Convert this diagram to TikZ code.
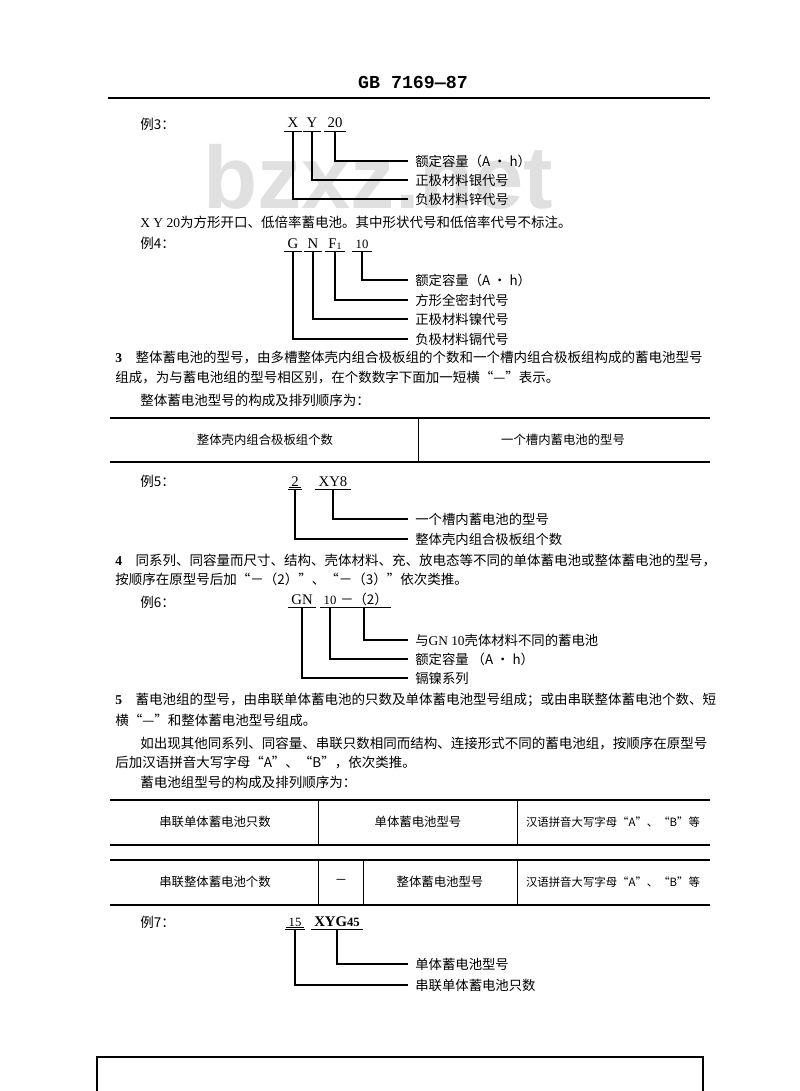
\documentclass[tikz,border=0pt]{standalone}
\usepackage{fontspec}
\setmainfont{Liberation Serif}
\newfontfamily\cjk{Noto Sans CJK SC}
\newfontfamily\hdfont{Liberation Mono}
\newfontfamily\wmfont{Liberation Sans}
\XeTeXlinebreaklocale "zh"
\XeTeXlinebreakskip=0pt plus 2pt minus 0.3pt
\newlength\pxu
\setlength\pxu{0.025cm}
\newcommand\jline[2]{\makebox[#1\pxu][s]{#2}}
\begin{document}
\begin{tikzpicture}[x=0.025cm, y=-0.025cm,
    body/.style={anchor=west, inner sep=0pt, font=\cjk\fontsize{9.6}{11}\selectfont},
    lbl/.style={anchor=west, inner xsep=5pt, inner ysep=0pt, font=\cjk\fontsize{9.5}{11}\selectfont},
    code/.style={anchor=base, inner xsep=2.3pt, inner ysep=2.5pt, text depth=0pt, font=\fontsize{10.5}{12}\selectfont},
    cell/.style={inner sep=0pt, font=\cjk\fontsize{8.8}{10}\selectfont},
    rule/.style={line width=1.3pt},
    thin/.style={line width=0.7pt},
    lead/.style={line width=0.8pt}]
    \useasboundingbox (0,0) rectangle (800,1091);
    % watermark
    \node[anchor=base west, inner sep=0pt, text=black!12, font=\wmfont\bfseries\fontsize{63}{63}\selectfont] (wm) at (203,208) {bzxz.net};
    % header
    \node[font=\hdfont\bfseries\fontsize{13}{13}\selectfont] (hdr) at (413,82) {GB 7169—87};
    \draw[rule] (108,98) -- (710,98);
    % example 3: X Y 20
    \node[body] (ex3) at (140,124) {例3：};
    \node[code] (ex3a) at (293,128) {X};
    \node[code] (ex3b) at (312,128) {Y};
    \node[code] (ex3c) at (335,128) {20};
    \draw[lead] (ex3a.south west) -- (ex3a.south east);
    \draw[lead] (ex3b.south west) -- (ex3b.south east);
    \draw[lead] (ex3c.south west) -- (ex3c.south east);
    \node[lbl] (ex3cl) at (408,161) {额定容量（A · h）};
    \node[lbl] (ex3bl) at (408,180) {正极材料银代号};
    \node[lbl] (ex3al) at (408,199) {负极材料锌代号};
    \draw[lead] (ex3c.south) |- (ex3cl.west);
    \draw[lead] (ex3b.south) |- (ex3bl.west);
    \draw[lead] (ex3a.south) |- (ex3al.west);
    \node[body] (txt1) at (140,222) {{\rmfamily X Y 20}为方形开口、低倍率蓄电池。其中形状代号和低倍率代号不标注。};
    % example 4: G N F1 10
    \node[body] (ex4) at (140,243) {例4：};
    \node[code] (ex4a) at (293,248) {G};
    \node[code] (ex4b) at (313,248) {N};
    \node[code] (ex4c) at (335,248) {F\raisebox{-1pt}{\scriptsize 1}};
    \node[code] (ex4d) at (362,248) {\small 10};
    \draw[lead] (ex4a.south west) -- (ex4a.south east);
    \draw[lead] (ex4b.south west) -- (ex4b.south east);
    \draw[lead] (ex4c.south west) -- (ex4c.south east);
    \draw[lead] (ex4d.south west) -- (ex4d.south east);
    \node[lbl] (ex4dl) at (408,280) {额定容量（A · h）};
    \node[lbl] (ex4cl) at (408,300) {方形全密封代号};
    \node[lbl] (ex4bl) at (408,319) {正极材料镍代号};
    \node[lbl] (ex4al) at (408,339) {负极材料镉代号};
    \draw[lead] (ex4d.south) |- (ex4dl.west);
    \draw[lead] (ex4c.south) |- (ex4cl.west);
    \draw[lead] (ex4b.south) |- (ex4bl.west);
    \draw[lead] (ex4a.south) |- (ex4al.west);
    % clause 3
    \node[body] (p3a) at (115,358) {\jline{590}{{\rmfamily\bfseries 3}\hspace{1em}整体蓄电池的型号，由多槽整体壳内组合极板组的个数和一个槽内组合极板组构成的蓄电池型号}};
    \node[body] (p3b) at (115,378) {组成，为与蓄电池组的型号相区别，在个数数字下面加一短横“—”表示。};
    \node[body] (p3c) at (140,400) {整体蓄电池型号的构成及排列顺序为：};
    % table 1
    \draw[rule] (110,418) -- (710,418);
    \draw[rule] (110,462) -- (710,462);
    \draw[thin] (418,418) -- (418,462);
    \node[cell] (t1a) at (265,440) {整体壳内组合极板组个数};
    \node[cell] (t1b) at (563,440) {一个槽内蓄电池的型号};
    % example 5: 2 XY8
    \node[body] (ex5) at (140,481) {例5：};
    \node[code] (ex5a) at (295,486) {2};
    \node[code] (ex5b) at (333,486) {XY8};
    \draw[lead] ([xshift=0.8pt,yshift=1.5pt]ex5a.south west) -- ([xshift=-0.8pt,yshift=1.5pt]ex5a.south east);
    \draw[lead] (ex5a.south west) -- (ex5a.south east);
    \draw[lead] (ex5b.south west) -- (ex5b.south east);
    \node[lbl] (ex5bl) at (408,519) {一个槽内蓄电池的型号};
    \node[lbl] (ex5al) at (408,539) {整体壳内组合极板组个数};
    \draw[lead] (ex5b.south) |- (ex5bl.west);
    \draw[lead] (ex5a.south) |- (ex5al.west);
    % clause 4
    \node[body] (p4a) at (115,560) {\jline{590}{{\rmfamily\bfseries 4}\hspace{1em}同系列、同容量而尺寸、结构、壳体材料、充、放电态等不同的单体蓄电池或整体蓄电池的型号，}};
    \node[body] (p4b) at (115,579) {按顺序在原型号后加“－（2）”、“－（3）”依次类推。};
    % example 6: GN 10-(2)
    \node[body] (ex6) at (140,602) {例6：};
    \node[code] (ex6a) at (302,604) {GN};
    \node[code] (ex6b) at (330,604) {\small 10};
    \node[code, font=\cjk\fontsize{9.5}{10}\selectfont] (ex6c) at (364,604) {－（2）};
    \draw[lead] (ex6a.south west) -- (ex6a.south east);
    \draw[lead] (ex6b.south west) -- (ex6b.south east);
    \draw[lead] (ex6c.south west) -- (ex6c.south east);
    \node[lbl] (ex6cl) at (408,640) {与{\rmfamily GN 10}壳体材料不同的蓄电池};
    \node[lbl] (ex6bl) at (408,659) {额定容量 （A · h）};
    \node[lbl] (ex6al) at (408,678) {镉镍系列};
    \draw[lead] (ex6c.south) |- (ex6cl.west);
    \draw[lead] (ex6b.south) |- (ex6bl.west);
    \draw[lead] (ex6a.south) |- (ex6al.west);
    % clause 5
    \node[body] (p5a) at (115,700) {\jline{590}{{\rmfamily\bfseries 5}\hspace{1em}蓄电池组的型号，由串联单体蓄电池的只数及单体蓄电池型号组成；或由串联整体蓄电池个数、短}};
    \node[body] (p5b) at (115,720) {横“—”和整体蓄电池型号组成。};
    \node[body] (p5c) at (140,743) {\jline{565}{如出现其他同系列、同容量、串联只数相同而结构、连接形式不同的蓄电池组，按顺序在原型号}};
    \node[body] (p5d) at (115,762) {后加汉语拼音大写字母“A”、“B”，依次类推。};
    \node[body] (p5e) at (140,782) {蓄电池组型号的构成及排列顺序为：};
    % table 2
    \draw[rule] (110,800) -- (710,800);
    \draw[rule] (110,845) -- (710,845);
    \draw[thin] (318,800) -- (318,845);
    \draw[thin] (517,800) -- (517,845);
    \node[cell] (t2a) at (215,822) {串联单体蓄电池只数};
    \node[cell] (t2b) at (418,822) {单体蓄电池型号};
    \node[cell, font=\cjk\fontsize{8.1}{10}\selectfont] (t2c) at (613,822) {汉语拼音大写字母“A”、“B”等};
    % table 3
    \draw[rule] (110,860) -- (710,860);
    \draw[rule] (110,905) -- (710,905);
    \draw[thin] (318,860) -- (318,905);
    \draw[thin] (363,860) -- (363,905);
    \draw[thin] (517,860) -- (517,905);
    \node[cell] (t3a) at (215,882) {串联整体蓄电池个数};
    \node[cell] (t3b) at (341,882) {－};
    \node[cell] (t3c) at (440,882) {整体蓄电池型号};
    \node[cell, font=\cjk\fontsize{8.1}{10}\selectfont] (t3d) at (613,882) {汉语拼音大写字母“A”、“B”等};
    % example 7: 15 XYG45
    \node[body] (ex7) at (140,922) {例7：};
    \node[code] (ex7a) at (295,926) {\small 15};
    \node[code] (ex7b) at (337,926) {\bfseries XYG\small 45};
    \draw[lead] ([xshift=0.8pt,yshift=1.5pt]ex7a.south west) -- ([xshift=-0.8pt,yshift=1.5pt]ex7a.south east);
    \draw[lead] (ex7a.south west) -- (ex7a.south east);
    \draw[lead] (ex7b.south west) -- (ex7b.south east);
    \node[lbl] (ex7bl) at (408,964) {单体蓄电池型号};
    \node[lbl] (ex7al) at (408,985) {串联单体蓄电池只数};
    \draw[lead] (ex7b.south) |- (ex7bl.west);
    \draw[lead] (ex7a.south) |- (ex7al.west);
    % frame at foot of page
    \draw[line width=1pt] (97,1095) -- (97,1057) -- (703,1057) -- (703,1095);
\end{tikzpicture}
\end{document}
